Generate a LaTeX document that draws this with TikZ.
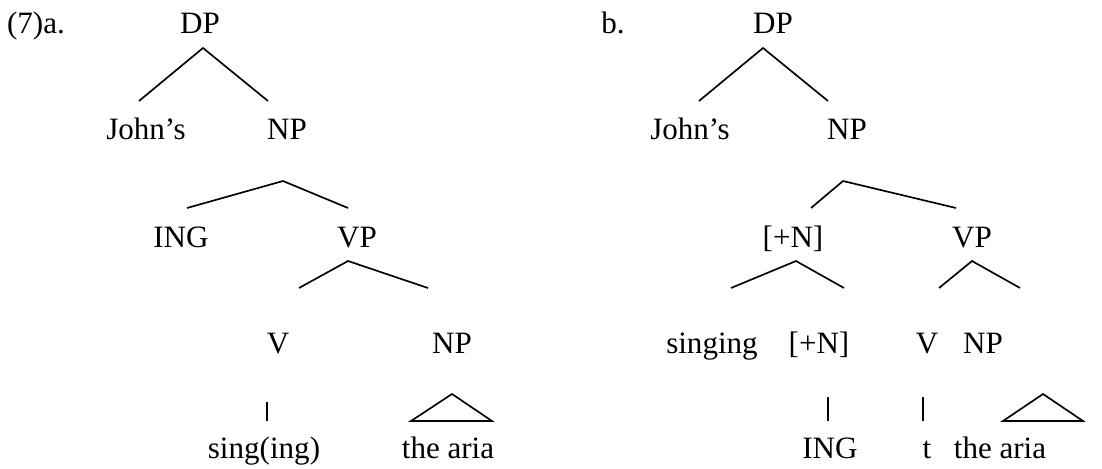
\documentclass[tikz,border=0pt]{standalone}
\usepackage{fontspec}
\setmainfont{Liberation Serif}
\usepackage{tikz}

\begin{document}
\begin{tikzpicture}[
    x=0.75pt, y=-0.75pt,
    lbl/.style={anchor=base, inner sep=0pt, font=\fontsize{23.3}{28}\selectfont},
    br/.style={line width=1.25pt}
]
\useasboundingbox (0,0) rectangle (1102,468);

% tree (a)
\node[lbl] (exa) at (36,33) {(7)a.};
\node[lbl] (dpa) at (200,33) {DP};
\node[lbl] (johna) at (146,139) {John's};
\node[lbl] (npa) at (287,139) {NP};
\node[lbl] (inga) at (181,247) {ING};
\node[lbl] (vpa) at (357,247) {VP};
\node[lbl] (va) at (278,353) {V};
\node[lbl] (objnpa) at (452,353) {NP};
\node[lbl] (singa) at (264,458) {sing(ing)};
\node[lbl] (ariaa) at (448,458) {the aria};

\path (203,48) coordinate (dpa-t) (139,101) coordinate (dpa-l) (268,101) coordinate (dpa-r);
\path (283,181) coordinate (npa-t) (187,208) coordinate (npa-l) (348,208) coordinate (npa-r);
\path (348,261) coordinate (vpa-t) (299,288) coordinate (vpa-l) (428,288) coordinate (vpa-r);
\path (267,402) coordinate (va-t) (267,421) coordinate (va-b);
\path (452,394) coordinate (obja-t) (411,421) coordinate (obja-l) (492,421) coordinate (obja-r);

\draw[br] (dpa-l) -- (dpa-t) -- (dpa-r);
\draw[br] (npa-l) -- (npa-t) -- (npa-r);
\draw[br] (vpa-l) -- (vpa-t) -- (vpa-r);
\draw[br] (va-t) -- (va-b);
\draw[br] (obja-l) -- (obja-t) -- (obja-r) -- cycle;

% tree (b)
\node[lbl] (exb) at (613,33) {b.};
\node[lbl] (dpb) at (773,33) {DP};
\node[lbl] (johnb) at (690,139) {John's};
\node[lbl] (npb) at (847,139) {NP};
\node[lbl] (nb) at (793,247) {[+N]};
\node[lbl] (vpb) at (972,247) {VP};
\node[lbl] (singb) at (712,353) {singing};
\node[lbl] (nnb) at (819,353) {[+N]};
\node[lbl] (vb) at (927,353) {V};
\node[lbl] (objnpb) at (983,353) {NP};
\node[lbl] (ingb) at (830,458) {ING};
\node[lbl] (tb) at (927,458) {t};
\node[lbl] (ariab) at (1000,458) {the aria};

\path (763,48) coordinate (dpb-t) (699,101) coordinate (dpb-l) (828,101) coordinate (dpb-r);
\path (843,181) coordinate (npb-t) (811,208) coordinate (npb-l) (956,208) coordinate (npb-r);
\path (796,261) coordinate (nb-t) (731,288) coordinate (nb-l) (844,288) coordinate (nb-r);
\path (972,261) coordinate (vpb-t) (939,288) coordinate (vpb-l) (1020,288) coordinate (vpb-r);
\path (828,397) coordinate (nnb-t) (828,421) coordinate (nnb-b);
\path (923,397) coordinate (vb-t) (923,421) coordinate (vb-b);
\path (1043,394) coordinate (objb-t) (1003,421) coordinate (objb-l) (1083,421) coordinate (objb-r);

\draw[br] (dpb-l) -- (dpb-t) -- (dpb-r);
\draw[br] (npb-l) -- (npb-t) -- (npb-r);
\draw[br] (nb-l) -- (nb-t) -- (nb-r);
\draw[br] (vpb-l) -- (vpb-t) -- (vpb-r);
\draw[br] (nnb-t) -- (nnb-b);
\draw[br] (vb-t) -- (vb-b);
\draw[br] (objb-l) -- (objb-t) -- (objb-r) -- cycle;
\end{tikzpicture}
\end{document}
